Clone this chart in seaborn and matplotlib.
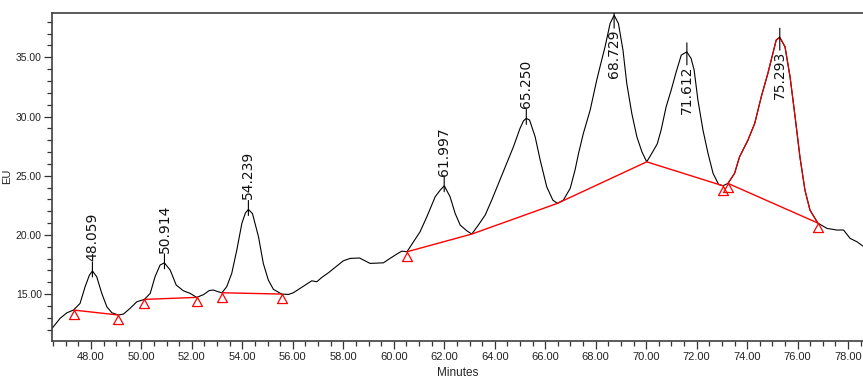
import numpy as np
import pandas as pd
import seaborn as sns
import matplotlib
matplotlib.use("Agg")
import matplotlib.pyplot as plt
from matplotlib.ticker import MultipleLocator, FormatStrFormatter
from matplotlib.transforms import offset_copy
from matplotlib.path import Path

# chromatogram trace (minutes, EU)
trace_min = [46.47, 46.78, 47.05, 47.31, 47.57, 47.77, 47.94, 48.06, 48.23, 48.43,
             48.63, 48.83, 49.09, 49.29, 49.55, 49.82, 50.12, 50.35, 50.54, 50.74,
             50.91, 51.14, 51.38, 51.66, 51.93, 52.19, 52.46, 52.69, 52.85, 53.05,
             53.19, 53.38, 53.58, 53.78, 53.98, 54.12, 54.24, 54.40, 54.64, 54.83,
             55.03, 55.23, 55.56, 55.83, 56.02, 56.29, 56.55, 56.75, 56.95, 57.15,
             57.41, 57.74, 58.00, 58.27, 58.64, 58.86, 59.06, 59.59, 59.85, 60.12,
             60.32, 60.52, 60.78, 61.04, 61.31, 61.64, 61.84, 62.00, 62.23, 62.43,
             62.63, 62.89, 63.09, 63.35, 63.62, 63.88, 64.15, 64.45, 64.74, 65.00,
             65.14, 65.25, 65.38, 65.60, 65.80, 66.06, 66.30, 66.48, 66.72, 66.99,
             67.18, 67.32, 67.51, 67.78, 68.04, 68.17, 68.37, 68.57, 68.73, 68.90,
             69.08, 69.23, 69.43, 69.63, 69.83, 70.02, 70.24, 70.44, 70.59, 70.79,
             70.99, 71.19, 71.39, 71.61, 71.78, 71.90, 72.05, 72.25, 72.45, 72.65,
             72.87, 73.04, 73.24, 73.50, 73.70, 74.03, 74.30, 74.56, 74.82, 75.02,
             75.15, 75.29, 75.50, 75.70, 75.90, 76.09, 76.29, 76.49, 76.80, 77.16,
             77.55, 77.82, 78.08, 78.35, 78.59]
trace_eu = [12.13, 12.95, 13.42, 13.65, 14.21, 15.62, 16.60, 16.95, 16.46, 15.06,
            13.93, 13.42, 13.23, 13.31, 13.79, 14.35, 14.55, 15.06, 16.46, 17.45,
            17.64, 17.03, 15.76, 15.28, 15.06, 14.72, 14.95, 15.30, 15.34, 15.19,
            15.11, 15.62, 16.75, 18.72, 20.97, 21.85, 22.15, 21.80, 19.84, 17.59,
            16.18, 15.40, 15.00, 14.97, 15.11, 15.48, 15.84, 16.12, 16.04, 16.41,
            16.80, 17.36, 17.81, 18.01, 18.05, 17.81, 17.59, 17.64, 18.01, 18.38,
            18.63, 18.57, 19.42, 20.26, 21.53, 23.22, 23.78, 24.15, 23.22, 21.82,
            20.83, 20.35, 20.07, 20.83, 21.67, 22.94, 24.35, 25.90, 27.44, 28.99,
            29.64, 29.84, 29.70, 28.29, 26.32, 24.06, 22.94, 22.66, 22.94, 23.93,
            25.47, 26.88, 28.57, 30.54, 33.07, 34.20, 35.89, 37.86, 38.56, 37.86,
            35.61, 32.80, 30.26, 28.29, 27.02, 26.17, 26.95, 27.70, 28.85, 30.82,
            32.23, 33.78, 35.19, 35.46, 34.90, 33.92, 31.38, 28.85, 26.88, 25.19,
            24.26, 24.15, 24.35, 25.19, 26.60, 28.00, 29.42, 31.67, 33.64, 35.33,
            36.45, 36.70, 35.89, 33.35, 29.97, 26.60, 23.78, 22.09, 21.00, 20.55,
            20.41, 20.41, 19.70, 19.42, 19.05]

# integration baselines
bl1_min = [47.31, 49.09]
bl1_eu = [13.65, 13.23]
bl2_min = [50.12, 52.19]
bl2_eu = [14.55, 14.72]
bl3_min = [53.19, 55.56]
bl3_eu = [15.11, 15.00]
bl4_min = [60.52, 63.09, 66.48, 70.02, 73.04]
bl4_eu = [18.57, 20.07, 22.66, 26.17, 24.15]
bl5_min = [73.24, 76.80]
bl5_eu = [24.35, 21.00]

# peak retention times and apex heights
peak_rt = [48.059, 50.914, 54.239, 61.997, 65.250, 68.729, 71.612, 75.293]
peak_eu = [16.95, 17.64, 22.15, 24.15, 29.84, 38.56, 35.46, 36.70]

# highlighted peak (drawn in red)
red_from, red_to = 73.24, 76.80

sns.set_style("ticks")
plt.rcParams['font.family'] = ['Liberation Sans', 'DejaVu Sans']

df = pd.DataFrame({'Minutes': trace_min, 'EU': trace_eu})
red = df[(df['Minutes'] >= red_from) & (df['Minutes'] <= red_to)]

fig = plt.figure(figsize=(8.63, 3.82), dpi=100)
ax = fig.add_axes([52.3 / 863, 41.3 / 382, 1 - 52.3 / 863, (340.7 - 12.7) / 382])

sns.lineplot(data=df, x='Minutes', y='EU', ax=ax, color='black', lw=0.8,
             sort=False, estimator=None)
sns.lineplot(data=red, x='Minutes', y='EU', ax=ax, color='#e00000', lw=0.9,
             sort=False, estimator=None)

# triangle marker with its apex on the point
tri = Path([(0, 0), (-0.55, -1), (0.55, -1), (0, 0)],
           [Path.MOVETO, Path.LINETO, Path.LINETO, Path.CLOSEPOLY])
for bx, by in [(bl1_min, bl1_eu), (bl2_min, bl2_eu), (bl3_min, bl3_eu),
               (bl4_min, bl4_eu), (bl5_min, bl5_eu)]:
    ax.plot(bx, by, color='#ff0000', lw=1.0)
    ax.plot([bx[0], bx[-1]], [by[0], by[-1]], ls='none', marker=tri, ms=13,
            mfc='none', mec='#ff0000', mew=0.9)

ax.set_xlim(46.47, 78.59)
ax.set_ylim(11.06, 38.77)

# peak labels: above the apex, or hanging inside the peak when near the top
for rt, h in zip(peak_rt, peak_eu):
    inside = h > 33
    lo = offset_copy(ax.transData, fig=fig, x=0, y=-13 if inside else -6, units='dots')
    hi = offset_copy(ax.transData, fig=fig, x=0, y=9, units='dots')
    ann = ax.annotate('', xy=(rt, h), xycoords=lo, xytext=(rt, h), textcoords=hi,
                      arrowprops=dict(arrowstyle='-', lw=0.8, color='black',
                                      shrinkA=0, shrinkB=0), annotation_clip=False)
    ann.arrow_patch.set_clip_box(ax.bbox)
    ann.arrow_patch.set_clip_on(True)
    if inside:
        tr = offset_copy(ax.transData, fig=fig, x=0, y=-14, units='dots')
        ax.text(rt, h, f"{rt:.3f}", transform=tr, rotation=90, ha='center',
                va='top', fontsize=10, family='DejaVu Sans', color='#111111')
    else:
        tr = offset_copy(ax.transData, fig=fig, x=0, y=10, units='dots')
        ax.text(rt, h, f"{rt:.3f}", transform=tr, rotation=90, ha='center',
                va='bottom', fontsize=10, family='DejaVu Sans', color='#111111')

ax.xaxis.set_major_locator(MultipleLocator(2))
ax.xaxis.set_minor_locator(MultipleLocator(0.5))
ax.yaxis.set_major_locator(MultipleLocator(5))
ax.yaxis.set_minor_locator(MultipleLocator(1))
ax.xaxis.set_major_formatter(FormatStrFormatter('%.2f'))
ax.yaxis.set_major_formatter(FormatStrFormatter('%.2f'))
ax.tick_params(which='major', length=6, width=0.9, color='#333333', labelsize=8,
               labelcolor='#222222', pad=2)
ax.tick_params(axis='y', which='major', labelsize=7.5, pad=1.5)
ax.tick_params(which='minor', length=3.5, width=0.9, color='#333333')

for side in ['left', 'bottom', 'top']:
    ax.spines[side].set_color('#404040')
    ax.spines[side].set_linewidth(1.2)
ax.spines['right'].set_visible(False)

ax.set_xlabel('Minutes', fontsize=8.5, labelpad=4)
ax.set_ylabel('EU', fontsize=8)
ax.yaxis.set_label_coords(-0.049, 0.5)

fig.savefig('out.png', dpi=100)
